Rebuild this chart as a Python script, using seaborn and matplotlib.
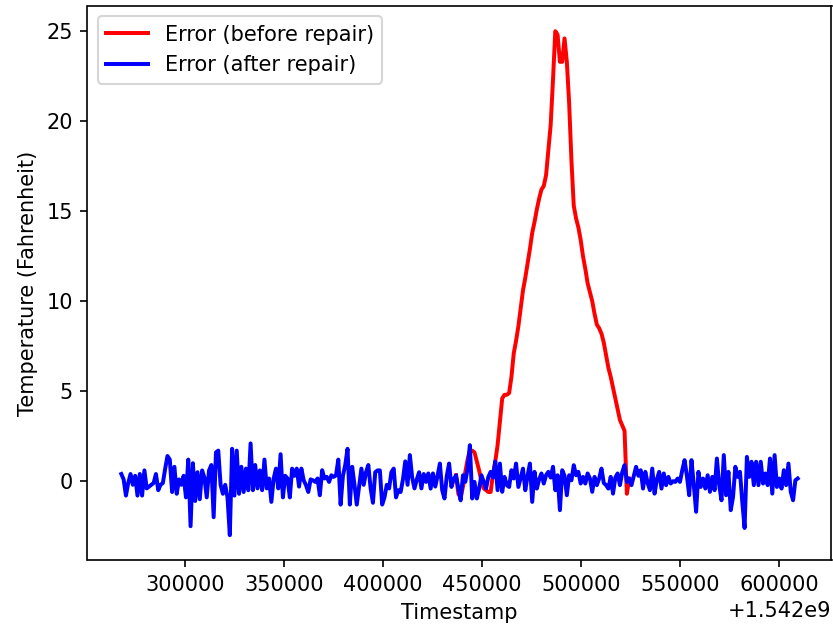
import numpy as np
import matplotlib
matplotlib.use("Agg")
import matplotlib.pyplot as plt
import seaborn as sns

# ==============================================================================
# DATA — temperature error
# ==============================================================================
T_OFFSET = 1.542e9      # epoch offset shown on the x axis
T_START = 268000        # first sample, seconds after offset
T_STEP = 1165           # sampling interval (s)

# error after repair (blue), one value per sample
after_repair = [
    0.4, 0.1, -0.8, -0.1, 0.4, -0.2, 0.3, -0.8, 0.4, -0.8,
    0.6, -0.4, -0.3, -0.2, -0.1, 0.4, -0.5, -0.2, -0.1, 0.7,
    1.4, 1.2, -0.6, 0.8, -0.7, 0.1, -0.2, 0.3, -0.9, 1.2,
    -2.5, 1.0, -1.1, 0.5, -1.0, 0.6, 0.2, -0.9, 0.6, 0.9,
    -2.0, 1.6, 1.7, -0.2, -0.7, -0.2, -0.9, -3.0, 1.8, -0.8,
    1.7, -0.7, 0.8, -0.6, 0.7, -0.5, 2.1, -0.5, 0.9, -0.4,
    0.6, -0.5, 1.2, -0.4, 0.15, -1.15, 0.15, 0.7, -0.4, 1.5,
    -0.9, 0.3, 0.15, -0.9, 0.7, 0.3, 0.7, -0.3, 0.7, 0.05,
    -0.22, -0.6, 0.1, 0.05, -0.04, 0.15, -0.78, 0.61, 0.15, 0.24,
    -0.04, 0.33, 0.24, 0.33, 1.2, -1.3, 0.3, 0.9, 1.8, -1.3,
    0.8, -0.2, -1.3, -0.3, 0.7, -0.2, 0.5, 0.9, -0.4, -1.2,
    0.5, 0.6, 0.6, -1.3, -0.9, -0.2, -0.4, 0.5, 0.7, -0.9,
    -0.5, -0.6, 0.1, 1.1, -0.2, 1.45, 0.2, -0.4, 0.1, 0.5,
    -0.4, 0.4, -0.04, 0.43, -0.41, 0.43, -0.3, 0.3, 0.98, -0.5,
    -0.96, 0.3, 0.98, -0.32, 0.1, 0.33, -0.41, -1.06, 0.33, -0.04,
    0.7, 2.0, -0.96, -0.04, -0.96, -0.41, 0.33, -0.04, -0.41, 0.24,
    0.52, 0.2, 1.1, -0.5, 0.98, -0.59, 0.24, -0.22, -0.32, 0.61,
    0.15, 0.98, -0.32, 0.2, 0.7, -0.5, 0.3, 0.98, -1.15, 0.52,
    -0.41, 0.1, 0.43, -0.13, 0.33, 0.52, 0.2, 0.8, -0.5, 0.33,
    -1.61, 0.61, 0.3, -0.78, 0.33, 0.05, 0.89, 0.33, 0.52, -0.13,
    0.24, -0.13, 0.43, 0.15, -0.59, 0.24, -0.22, 0.15, 0.7, -0.1,
    -0.22, -0.41, 0.24, -0.69, 0.2, 0.43, -0.22, 0.5, 0.89, -0.04,
    0.15, -0.22, 0.3, 0.8, 0.3, 0.61, -0.41, 0.52, -0.1, -0.5,
    0.7, -0.69, 0.1, 0.52, -0.41, 0.43, -0.22, 0.24, -0.13, 0.0,
    -0.04, 0.15, -0.04, 0.61, 1.17, 0.3, -0.78, 1.17, -0.2, -1.7,
    0.52, -0.32, 0.15, -0.41, 0.33, -0.59, 0.24, -0.5, 1.26, -0.22,
    -1.06, 1.45, -0.78, 0.52, -1.61, -0.87, 0.8, 0.24, 0.52, -1.15,
    -2.6, 1.35, 0.24, 1.08, -0.22, 1.08, -0.22, 1.08, -0.13, 0.43,
    -0.22, 1.26, -0.69, 1.45, -0.32, 0.15, -0.41, 0.61, -0.22, 0.98,
    -0.59, -1.06, 0.05, 0.15,
]

# error before repair (red) — only where it differs from the repaired series
BEFORE_START = 436925   # seconds after offset (sample 145 of the series)
before_repair = [
    0.33, -0.7, -0.9, -0.3, 0.5, 1.2, 1.7, 1.7, 1.6, 1.1,
    0.6, 0.0, -0.4, -0.5, -0.6, -0.6, 0.4, 1.1, 2.0, 3.3,
    4.6, 4.8, 4.8, 4.9, 5.8, 7.1, 7.8, 8.6, 9.6, 10.6,
    11.3, 12.1, 12.9, 13.8, 14.4, 15.1, 15.7, 16.2, 16.4, 17.0,
    18.4, 19.8, 22.3, 25.0, 24.8, 23.3, 23.3, 24.6, 23.3, 21.0,
    17.8, 15.3, 14.6, 14.1, 13.4, 12.5, 11.8, 11.0, 10.5, 10.0,
    9.3, 8.7, 8.5, 8.2, 7.7, 7.0, 6.3, 5.8, 5.2, 4.6,
    4.0, 3.4, 3.1, 2.8, -0.7, 0.15,
]

ts_after = T_OFFSET + T_START + T_STEP * np.arange(len(after_repair))
ts_before = T_OFFSET + BEFORE_START + T_STEP * np.arange(len(before_repair))

# ==============================================================================
# PLOT
# ==============================================================================
W, H, DPI = 834, 628, 150
fig = plt.figure(figsize=(W / DPI, H / DPI), dpi=DPI)
ax = fig.add_axes([87.5 / W, (H - 560.4) / H, 744 / W, 554.4 / H])

sns.lineplot(x=ts_before, y=before_repair, color="red", linewidth=1.9,
             label="Error (before repair)", ax=ax)
sns.lineplot(x=ts_after, y=after_repair, color="blue", linewidth=1.9,
             label="Error (after repair)", ax=ax)

ax.set_xlabel("Timestamp")
ax.set_ylabel("Temperature (Fahrenheit)")
ax.legend(loc="upper left")

fig.savefig("out.png", dpi=DPI)
